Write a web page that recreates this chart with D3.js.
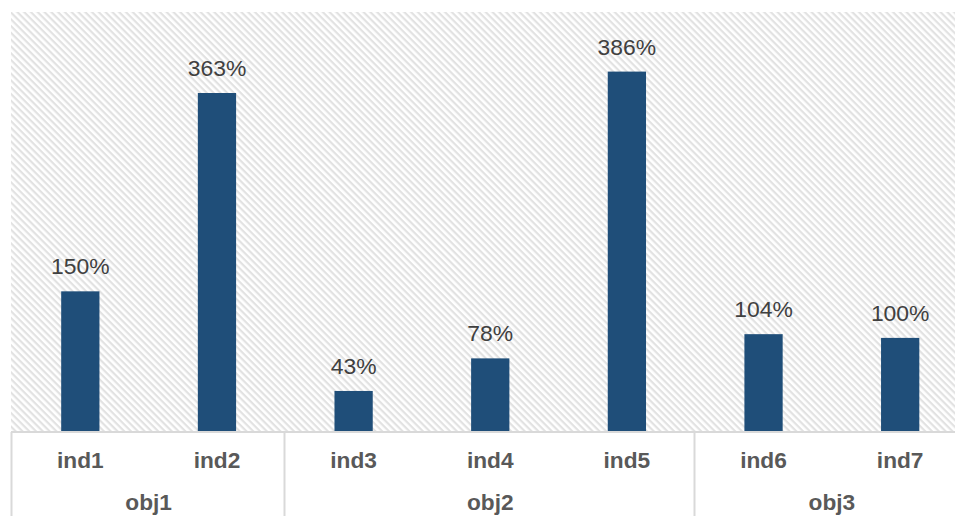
<!DOCTYPE html>
<html>
<head>
<meta charset="utf-8">
<script src="https://cdn.jsdelivr.net/npm/d3@7"></script>
<style>
  html, body { margin: 0; padding: 0; background: #ffffff; }
  svg { display: block; }
</style>
</head>
<body>
<svg id="chart" width="955" height="516"></svg>
<script>
const categories = ["ind1", "ind2", "ind3", "ind4", "ind5", "ind6", "ind7"];
const values = [150, 363, 43, 78, 386, 104, 100];
const groups = ["obj1", "obj2", "obj3"];
const groupMembers = [["ind1", "ind2"], ["ind3", "ind4", "ind5"], ["ind6", "ind7"]];
const yDomain = [0, 450];

const svg = d3.select("#chart");
const W = 955, H = 516;
const plot = { left: 11, top: 12, right: 968.5, bottom: 431 };

const defs = svg.append("defs");
const pat = defs.append("pattern")
  .attr("id", "stripes")
  .attr("patternUnits", "userSpaceOnUse")
  .attr("width", 10).attr("height", 4.8)
  .attr("patternTransform", "rotate(45)");
pat.append("rect").attr("width", 10).attr("height", 4.8).attr("fill", "#ffffff");
pat.append("rect").attr("y", 0).attr("width", 10).attr("height", 2.2).attr("fill", "#e2e2e2");

svg.append("rect")
  .attr("x", plot.left).attr("y", plot.top)
  .attr("width", W - plot.left).attr("height", plot.bottom - plot.top)
  .attr("fill", "url(#stripes)");

const x = d3.scaleBand()
  .domain(categories)
  .range([plot.left + 1, plot.right])
  .paddingInner(0.72)
  .paddingOuter(0.36);

const y = d3.scaleLinear().domain(yDomain).range([plot.bottom, plot.top]);

const data = categories.map((c, i) => ({ cat: c, v: values[i] }));

svg.append("g").selectAll("rect")
  .data(data).join("rect")
  .attr("x", d => x(d.cat))
  .attr("y", d => y(d.v))
  .attr("width", x.bandwidth())
  .attr("height", d => y(0) - y(d.v))
  .attr("fill", "#1f4e79");

svg.append("g").selectAll("text")
  .data(data).join("text")
  .attr("x", d => x(d.cat) + x.bandwidth() / 2)
  .attr("y", d => y(d.v) - 17)
  .attr("text-anchor", "middle")
  .attr("font-family", "Liberation Sans, Arial, sans-serif")
  .attr("font-size", "22.9px")
  .attr("fill", "#404040")
  .text(d => d.v + "%");

// axis line
svg.append("line")
  .attr("x1", plot.left).attr("x2", W)
  .attr("y1", plot.bottom + 1).attr("y2", plot.bottom + 1)
  .attr("stroke", "#d9d9d9").attr("stroke-width", 2);

// category labels
svg.append("g").selectAll("text")
  .data(categories).join("text")
  .attr("x", d => x(d) + x.bandwidth() / 2)
  .attr("y", 468)
  .attr("text-anchor", "middle")
  .attr("font-family", "Liberation Sans, Arial, sans-serif")
  .attr("font-weight", "bold")
  .attr("font-size", "22.7px")
  .attr("fill", "#595959")
  .text(d => d);

// group separators and labels
const step = x.step();
const rangeStart = x.range()[0];
let idx = 0;
const groupInfo = groups.map((g, i) => {
  const start = rangeStart + idx * step;
  idx += groupMembers[i].length;
  const end = rangeStart + idx * step;
  return { g, start, end };
});

svg.append("g").selectAll("line")
  .data(groupInfo).join("line")
  .attr("x1", d => Math.round(d.start) - 0.5)
  .attr("x2", d => Math.round(d.start) - 0.5)
  .attr("y1", plot.bottom + 1).attr("y2", H)
  .attr("stroke", "#d9d9d9").attr("stroke-width", 2);

svg.append("g").selectAll("text")
  .data(groupInfo).join("text")
  .attr("x", d => (d.start + d.end) / 2)
  .attr("y", 510)
  .attr("text-anchor", "middle")
  .attr("font-family", "Liberation Sans, Arial, sans-serif")
  .attr("font-weight", "bold")
  .attr("font-size", "22.7px")
  .attr("fill", "#595959")
  .text(d => d.g);
</script>
</body>
</html>
